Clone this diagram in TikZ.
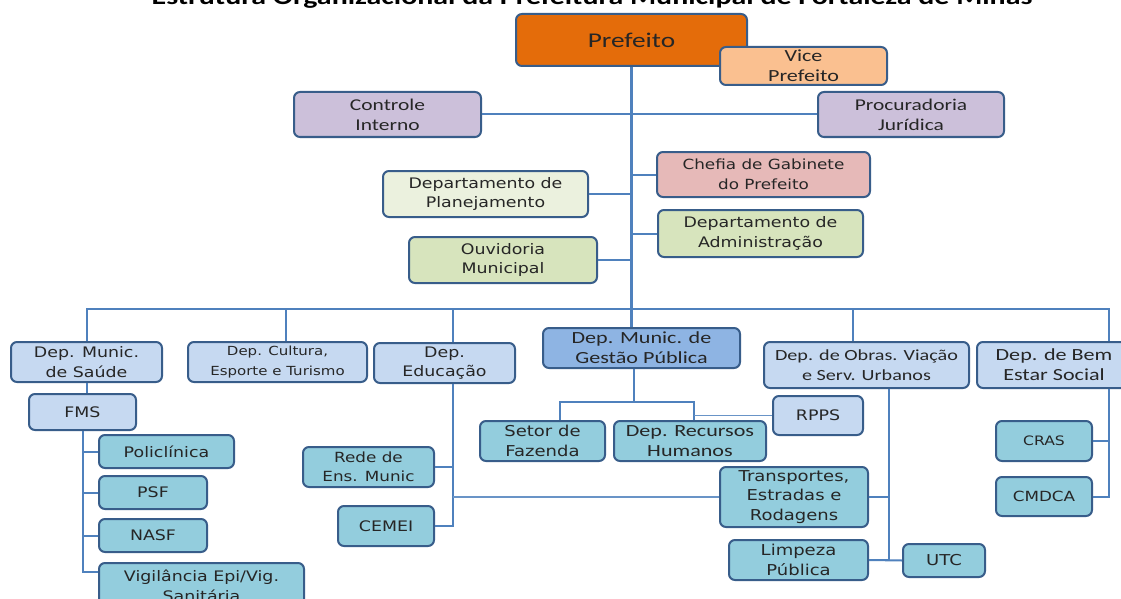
\documentclass[tikz,border=0pt]{standalone}
\usepackage{fontspec}
\usepackage{tikz}
\usetikzlibrary{positioning}
\newfontfamily\calibfont[FakeStretch=1.3]{Carlito}
\newfontfamily\verdfont[FakeStretch=1.2]{DejaVu Sans}
\definecolor{pmorange}{RGB}{228,108,10}
\definecolor{pmpeach}{RGB}{250,192,144}
\definecolor{pmlavender}{RGB}{204,192,218}
\definecolor{pmrose}{RGB}{230,185,184}
\definecolor{pmpalegreen}{RGB}{235,241,222}
\definecolor{pmolive}{RGB}{215,228,189}
\definecolor{pmlightblue}{RGB}{198,217,241}
\definecolor{pmblue}{RGB}{142,180,227}
\definecolor{pmteal}{RGB}{147,205,221}
\definecolor{pmline}{RGB}{79,129,189}
\definecolor{pmborder}{RGB}{56,93,138}
\definecolor{pmtext}{RGB}{38,38,38}
\tikzstyle{unit} = [rectangle, rounded corners=6pt, draw=pmborder, line width=2pt, align=center, inner sep=0pt, text=pmtext]
\tikzstyle{link} = [line width=2pt, color=pmline]
\tikzstyle{thinlink} = [line width=1.1pt, color=pmline!85]
\tikzset{calib/.style={font=\calibfont\fontsize{#1}{20}\selectfont},
  verd/.style={font=\verdfont\fontsize{#1}{19.5}\selectfont}}

\begin{document}
\begin{tikzpicture}[x=1pt, y=-1pt]
\useasboundingbox (0,0) rectangle (1121,599);
\clip (0,0) rectangle (1121,599);
\fill[white] (0,0) rectangle (1121,599);

% title, cut off by the top edge
\node (title) [anchor=base, text=black, font=\calibfont\bfseries\fontsize{23}{26}\selectfont] at (592,4.5) {Estrutura Organizacional da Prefeitura Municipal de Fortaleza de Minas};

% gabinete
\node (prefeito) [unit, calib=21, fill=pmorange, minimum width=231pt, minimum height=52pt] at (631.5,40) {Prefeito};
\node (vice) [unit, calib=17, fill=pmpeach, minimum width=167pt, minimum height=38pt] at (803.5,66) {Vice\\Prefeito};
\node (controle) [unit, calib=16.5, fill=pmlavender, minimum width=187pt, minimum height=45pt] at (387.5,114.5) {Controle\\Interno};
\node (procuradoria) [unit, calib=16.5, fill=pmlavender, minimum width=186pt, minimum height=45pt] at (911,114.5) {Procuradoria\\Jurídica};
\node (chefia) [unit, verd=14, fill=pmrose, minimum width=213pt, minimum height=45pt] at (763.5,174.5) {Chefia de Gabinete\\do Prefeito};
\node (planej) [unit, verd=14.5, fill=pmpalegreen, minimum width=205pt, minimum height=46pt] at (485.5,194) {Departamento de\\Planejamento};
\node (admin) [unit, verd=14.5, fill=pmolive, minimum width=205pt, minimum height=47pt] at (760.5,233.5) {Departamento de\\Administração};
\node (ouvidoria) [unit, verd=14.5, fill=pmolive, minimum width=188pt, minimum height=46pt] at (503,260) {Ouvidoria\\Municipal};

% departamentos
\node (saude) [unit, verd=14.5, fill=pmlightblue, minimum width=151pt, minimum height=40pt] at (86.5,362) {Dep. Munic.\\de Saúde};
\node (cultura) [unit, verd=12.5, fill=pmlightblue, minimum width=179pt, minimum height=40pt] at (277.5,362) {Dep. Cultura,\\Esporte e Turismo};
\node (educacao) [unit, verd=14.5, fill=pmlightblue, minimum width=141pt, minimum height=40pt] at (444.5,363) {Dep.\\Educação};
\node (gestao) [unit, calib=17, fill=pmblue, minimum width=197pt, minimum height=40pt] at (641.5,348) {Dep. Munic. de\\Gestão Pública};
\node (obras) [unit, calib=15.5, fill=pmlightblue, minimum width=205pt, minimum height=46pt] at (866.5,365) {Dep. de Obras. Viação\\e Serv. Urbanos};
\node (bemestar) [unit, calib=17, fill=pmlightblue, minimum width=154pt, minimum height=46pt] at (1054,365) {Dep. de Bem\\Estar Social};

% saude
\node (fms) [unit, verd=14.5, fill=pmlightblue, minimum width=107pt, minimum height=36pt] at (82.5,412) {FMS};
\node (policlinica) [unit, verd=14.5, fill=pmteal, minimum width=135pt, minimum height=33pt] at (166.5,451.5) {Policlínica};
\node (psf) [unit, verd=14.5, fill=pmteal, minimum width=108pt, minimum height=33pt] at (153,492.5) {PSF};
\node (nasf) [unit, verd=14.5, fill=pmteal, minimum width=108pt, minimum height=33pt] at (153,535.5) {NASF};
\node (vigilancia) [unit, verd=14.5, fill=pmteal, minimum width=205pt, minimum height=46pt] at (201.5,586) {Vigilância Epi/Vig.\\Sanitária};

% educacao
\node (rede) [unit, verd=14, fill=pmteal, minimum width=131pt, minimum height=40pt] at (368.5,467) {Rede de\\Ens. Munic};
\node (cemei) [unit, verd=14.5, fill=pmteal, minimum width=96pt, minimum height=40pt] at (386,526) {CEMEI};

% gestao
\node (fazenda) [unit, verd=15, fill=pmteal, minimum width=125pt, minimum height=40pt] at (542.5,441) {Setor de\\Fazenda};
\node (recursos) [unit, calib=17, fill=pmteal, minimum width=152pt, minimum height=40pt] at (690,441) {Dep. Recursos\\Humanos};
\node (rpps) [unit, verd=14.5, fill=pmlightblue, minimum width=90pt, minimum height=39pt] at (818,415.5) {RPPS};

% obras
\node (transportes) [unit, verd=15, fill=pmteal, minimum width=148pt, minimum height=60pt] at (794,497) {Transportes,\\Estradas e\\Rodagens};
\node (limpeza) [unit, verd=15, fill=pmteal, minimum width=139pt, minimum height=40pt] at (798.5,560) {Limpeza\\Pública};
\node (utc) [unit, verd=15, fill=pmteal, minimum width=82pt, minimum height=33pt] at (944,560.5) {UTC};

% bem estar
\node (cras) [unit, verd=13, fill=pmteal, minimum width=96pt, minimum height=40pt] at (1044,441) {CRAS};
\node (cmdca) [unit, verd=14, fill=pmteal, minimum width=96pt, minimum height=39pt] at (1044,496.5) {CMDCA};

% connectors
\coordinate (bus) at (631.5,309);
\coordinate (gesfork) at (634,402);
\coordinate (eduspine) at ([xshift=8.5pt]educacao.south);
\coordinate (rhtop) at ([xshift=4pt]recursos.north);
\coordinate (obrspine) at ([xshift=22.5pt]obras.south);
\coordinate (bemspine) at ([xshift=55pt]bemestar.south);

\draw[link, line width=2.4pt] (prefeito.south) -- (prefeito.south |- gestao.north);
\draw[link] (controle.east) -- (procuradoria.west);
\draw[link] (chefia.west) -- (chefia.west -| prefeito.south);
\draw[link] (admin.west) -- (admin.west -| prefeito.south);
\draw[link] (planej.east) -- (planej.east -| prefeito.south);
\draw[link] (ouvidoria.east) -- (ouvidoria.east -| prefeito.south);

\draw[link] (saude.north) |- (bus) -| ([xshift=55pt]bemestar.north);
\draw[link] ([xshift=8.5pt]cultura.north) -- ([xshift=8.5pt]cultura.north |- bus);
\draw[link] (eduspine |- educacao.north) -- (eduspine |- bus);
\draw[link] ([xshift=-13.5pt]obras.north) -- ([xshift=-13.5pt]obras.north |- bus);

\draw[link] (saude.south) -- (saude.south |- fms.north);
\draw[link] (fms.south) |- ([yshift=14pt]vigilancia.west);
\draw[link] (policlinica.west) -- (policlinica.west -| fms.south);
\draw[link] (psf.west) -- (psf.west -| fms.south);
\draw[link] (nasf.west) -- (nasf.west -| fms.south);

\draw[link] (eduspine) |- (cemei.east);
\draw[link] (rede.east) -- (rede.east -| eduspine);
\draw[thinlink] (eduspine |- transportes.west) -- (transportes.west);

\draw[link] (gestao.south -| gesfork) -- (gesfork);
\draw[link] ([xshift=17.5pt]fazenda.north) |- (gesfork) -| (rhtop);
\draw[thinlink] (rhtop |- rpps.west) -- (rpps.west);

\draw[link] (obrspine) |- (limpeza.east);
\draw[link] (transportes.east) -- (transportes.east -| obrspine);
\draw[link] (limpeza.east) -- (utc.west);

\draw[link] (bemspine) |- (cmdca.east);
\draw[link] (cras.east) -- (cras.east -| bemspine);
\end{tikzpicture}
\end{document}
